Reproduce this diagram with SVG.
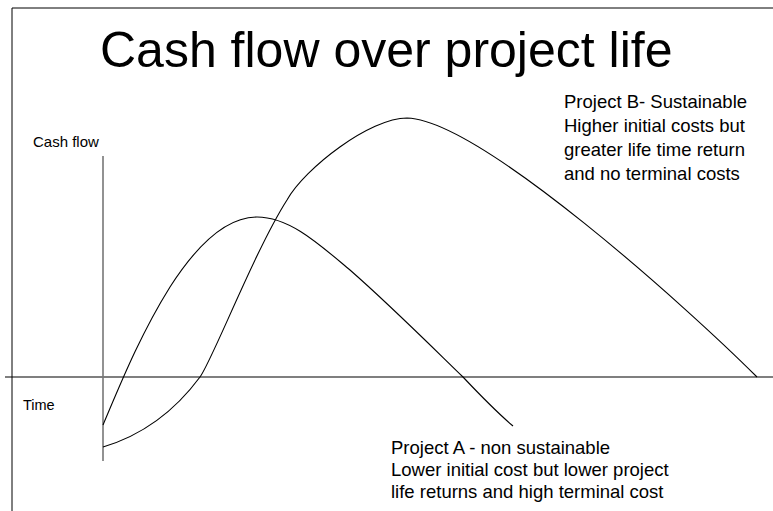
<svg xmlns="http://www.w3.org/2000/svg" width="773" height="511" viewBox="0 0 773 511">
<style>
.t{font-family:"Liberation Sans",Arial,sans-serif;fill:#000}
.c{fill:none;stroke:#000;stroke-width:1.1}
</style>
<rect x="0" y="0" width="773" height="511" fill="#fff"/>
<g id="frame">
<line x1="12" y1="8" x2="773" y2="8" stroke="#000" stroke-width="1"/>
<line x1="12" y1="8" x2="12" y2="511" stroke="#000" stroke-width="1"/>
</g>
<g id="axes">
<line x1="5" y1="377" x2="773" y2="377" stroke="#000" stroke-width="1.1"/>
<line x1="103" y1="156" x2="103" y2="461" stroke="#777" stroke-width="1.6"/>
</g>
<g id="connectors">
<path id="curveA" class="c" d="M103,425 C120,385 140,335 170,287 C195,248 225,217 257,217 C290,217 320,245 350,270 C390,305 430,345 463,377 C480,395 500,415 513,426"/>
<path id="curveB" class="c" d="M103,447 C150,433 180,404 200,377 C212,361 255,250 287,200 C305,168 370,118 407,118 C480,120 690,310 757,377"/>
</g>
<g id="title"><text class="t" x="100" y="67" font-size="50">Cash flow over project life</text></g>
<g id="label-cashflow"><text class="t" x="33" y="147" font-size="15">Cash flow</text></g>
<g id="label-time"><text class="t" x="23" y="410" font-size="14.5">Time</text></g>
<g id="label-B">
<text class="t" x="564" y="108" font-size="18.5">Project B- Sustainable</text>
<text class="t" x="564" y="132" font-size="18.5">Higher initial costs but</text>
<text class="t" x="564" y="156" font-size="18.5">greater life time return</text>
<text class="t" x="564" y="180" font-size="18.5">and no terminal costs</text>
</g>
<g id="label-A">
<text class="t" x="391" y="454" font-size="18.5">Project A - non sustainable</text>
<text class="t" x="391" y="476" font-size="18.5">Lower initial cost but lower project</text>
<text class="t" x="391" y="498" font-size="18.5">life returns and high terminal cost</text>
</g>
</svg>
